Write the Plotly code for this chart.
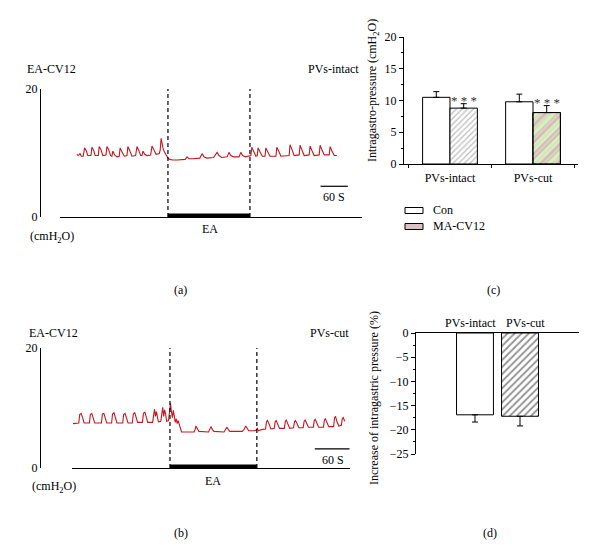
import plotly.graph_objects as go

W, H = 600, 557
def px(x): return x / W
def py(y): return 1 - y / H

FONT = "Liberation Serif"
RED = "#c8161e"

# ---------------- Panel (a): PVs-intact trace (time in s, EA starts at 0) ----------------
a_t = [-200, -197, -193, -190, -186, -183, -179, -176, -169, -167, -163, -160,
       -153, -151, -147, -143, -136, -134, -130, -126, -123, -121, -117, -112,
       -107, -105, -101, -96, -90, -88, -84, -79, -71, -68, -64, -60,
       -57, -55, -51, -46, -38, -35, -31, -26, -19, -17, -15, -13, -11, -8, -4, 0,
       4, 10, 20, 30, 38, 42, 46, 55, 70, 75, 79, 85, 100, 108, 112, 118,
       130, 134, 138, 144, 156, 160, 164, 170, 178,
       182, 184, 188, 193, 196, 198, 202, 207, 213, 215, 219, 224, 237, 239, 243, 248,
       266, 268, 272, 277, 288, 290, 294, 299, 310, 312, 316, 321, 332, 334, 338, 343,
       354, 356, 360, 365, 371]
a_v = [9.8, 9.6, 9.9, 9.5, 9.5, 10.8, 10.3, 9.6, 9.6, 10.9, 10.4, 9.6,
       9.6, 11.0, 10.5, 9.6, 9.7, 11.0, 10.5, 9.6, 9.5, 10.3, 9.7, 9.4,
       9.5, 10.8, 10.2, 9.5, 9.6, 11.0, 10.4, 9.5, 9.6, 11.0, 10.4, 9.6,
       9.6, 10.3, 9.8, 9.6, 9.7, 11.1, 10.5, 9.8, 9.9, 10.5, 12.3, 11.2, 10.8, 10.2, 9.6, 9.2,
       9.0, 8.9, 8.9, 8.9, 9.0, 9.4, 9.1, 9.1, 9.2, 9.9, 9.4, 9.2, 9.3, 10.1, 9.6, 9.3,
       9.4, 10.1, 9.6, 9.4, 9.4, 10.1, 9.6, 9.4, 9.5,
       9.6, 10.9, 10.2, 9.5, 9.6, 10.8, 10.2, 9.5, 9.5, 10.8, 10.2, 9.5, 9.5, 10.9, 10.3, 9.5,
       9.6, 11.3, 10.6, 9.6, 9.7, 11.2, 10.5, 9.6, 9.7, 11.1, 10.4, 9.6, 9.7, 11.2, 10.5, 9.7,
       9.7, 11.0, 10.3, 9.6, 9.6]

# ---------------- Panel (b): PVs-cut trace ----------------
b_t = [-201, -192, -189, -187, -184, -181, -178, -167, -165, -162, -159, -156,
       -142, -140, -137, -134, -131, -121, -119, -116, -113, -110, -98, -96, -93, -90, -87,
       -78, -76, -73, -70, -67, -57, -55, -52, -49, -46, -36, -34, -32, -30, -28, -26, -24,
       -19, -17, -15, -13, -11, -9, -7, -3, -1, 1, 3, 5, 7, 9, 11, 13, 15, 17, 19, 21, 24,
       40, 50, 52, 54, 57, 60, 80, 83, 85, 88, 91, 112, 115, 118, 121, 124,
       150, 154, 157, 160, 163, 175, 178, 181, 183, 190,
       198, 200, 202, 205, 209, 216, 218, 220, 223, 227, 237, 239, 241, 244, 248,
       256, 258, 260, 263, 267, 276, 278, 280, 283, 287, 297, 299, 301, 304, 308,
       318, 320, 322, 325, 329, 339, 341, 343, 346, 350, 355, 357, 359, 362]
b_v = [7.4, 7.5, 7.5, 8.9, 9.1, 8.4, 7.5, 7.5, 8.9, 9.1, 8.4, 7.5,
       7.5, 9.0, 9.1, 8.4, 7.5, 7.5, 9.0, 9.2, 8.5, 7.5, 7.5, 8.9, 9.1, 8.4, 7.5,
       7.5, 9.0, 9.2, 8.5, 7.6, 7.6, 9.1, 9.3, 8.6, 7.6, 7.6, 9.3, 9.8, 8.6, 9.4, 8.5, 7.7,
       7.8, 9.6, 10.1, 8.6, 9.7, 9.0, 7.8, 7.9, 9.8, 10.8, 9.4, 8.4, 9.6, 8.2, 7.6, 8.2, 7.4, 7.9, 7.2, 6.9, 6.0,
       6.0, 6.0, 6.4, 7.0, 6.5, 6.1, 6.0, 6.5, 6.9, 6.4, 6.1, 6.0, 6.4, 6.8, 6.4, 6.1,
       6.1, 6.5, 7.0, 6.5, 6.2, 6.2, 6.3, 6.6, 6.2, 6.4,
       6.5, 7.7, 7.9, 7.4, 6.5, 6.6, 7.7, 7.9, 7.4, 6.6, 6.6, 7.8, 8.0, 7.4, 6.6,
       6.7, 7.7, 7.9, 7.4, 6.7, 6.7, 7.8, 8.0, 7.5, 6.8, 6.8, 7.9, 8.1, 7.5, 6.8,
       6.8, 8.0, 8.2, 7.6, 6.9, 6.9, 8.4, 8.6, 7.7, 7.0, 7.1, 8.2, 8.4, 7.8]

ea_window = [0, 180]
scale_a = [335, 395]
scale_b = [300, 372]
trace_ticks = [0, 20]

# ---------------- Panel (c) ----------------
groups = ["PVs-intact", "PVs-cut"]
con_mean = [10.5, 9.8]
con_err = [0.9, 1.2]
ma_mean = [8.8, 8.1]
ma_err = [0.7, 1.1]
c_ticks = [0, 5, 10, 15, 20]
legend_labels = ["Con", "MA-CV12"]

# ---------------- Panel (d) ----------------
d_groups = ["PVs-intact", "PVs-cut"]
d_mean = [-16.9, -17.2]
d_err = [1.5, 2.0]
d_ticks = [0, -5, -10, -15, -20, -25]

fig = go.Figure()

fig.add_trace(go.Scatter(x=a_t, y=a_v, mode="lines", line=dict(color=RED, width=1.1),
                         xaxis="x", yaxis="y", showlegend=False))
fig.add_trace(go.Scatter(x=b_t, y=b_v, mode="lines", line=dict(color=RED, width=1.1),
                         xaxis="x2", yaxis="y2", showlegend=False))

BW = 0.33
eb = dict(type="data", symmetric=False, color="black", thickness=1, width=3)
fig.add_trace(go.Bar(x=groups, y=con_mean, offset=-BW, width=BW, name=legend_labels[0],
                     marker=dict(color="white", line=dict(color="black", width=1)),
                     error_y=dict(eb, array=con_err, arrayminus=[0] * len(con_err)),
                     xaxis="x3", yaxis="y3", showlegend=False))
fig.add_trace(go.Bar(x=groups, y=ma_mean, offset=0, width=BW, name=legend_labels[1],
                     marker=dict(color="white", line=dict(color="black", width=1),
                                 pattern=dict(shape=["/", "/"], fgcolor=["#7a7a7a", "#c99aaa"],
                                              bgcolor=["white", "#d4e6b6"], size=[4, 11],
                                              solidity=[0.3, 0.5])),
                     error_y=dict(eb, array=ma_err, arrayminus=[0] * len(ma_err)),
                     xaxis="x3", yaxis="y3", showlegend=False))
fig.add_trace(go.Bar(x=groups, y=[None, ma_mean[1]], offset=0, width=BW,
                     marker=dict(color="rgba(0,0,0,0)", line=dict(color="black", width=1),
                                 pattern=dict(shape="/", fgcolor="white", bgcolor="rgba(0,0,0,0)",
                                              size=4, solidity=0.25)),
                     xaxis="x3", yaxis="y3", showlegend=False, hoverinfo="skip"))

fig.add_trace(go.Bar(x=d_groups, y=d_mean, width=0.82,
                     marker=dict(color="white", line=dict(color="black", width=1),
                                 pattern=dict(shape=["", "/"], fgcolor="#222222", bgcolor="white",
                                              size=5, solidity=0.35)),
                     error_y=dict(eb, array=[0] * len(d_err), arrayminus=d_err),
                     xaxis="x4", yaxis="y4", showlegend=False))

tf = dict(family=FONT, size=12, color="black")
trace_x = dict(showline=True, linecolor="black", linewidth=1.2, showticklabels=False,
               ticks="", showgrid=False, zeroline=False, automargin=False)
trace_y = dict(anchor="free", position=px(40), range=[0, 20], showline=True, linecolor="black",
               linewidth=1.2, ticks="inside", ticklen=4, tickcolor="black", tickvals=trace_ticks,
               showgrid=False, zeroline=False, tickfont=tf, automargin=False)

fig.update_layout(
    width=W, height=H, margin=dict(l=0, r=0, t=0, b=0, autoexpand=False),
    paper_bgcolor="white", plot_bgcolor="rgba(0,0,0,0)",
    font=tf, barmode="overlay", showlegend=False,
    xaxis=dict(trace_x, domain=[px(60), px(362)], range=[-237, 426], anchor="y"),
    yaxis=dict(trace_y, domain=[py(217), py(89)]),
    xaxis2=dict(trace_x, domain=[px(72), px(350)], range=[-203, 373], anchor="y2"),
    yaxis2=dict(trace_y, domain=[py(468), py(348)]),
    xaxis3=dict(domain=[px(404), px(578)], type="category", range=[-0.554, 1.542], anchor="y3",
                showline=True, linecolor="black", linewidth=1, ticks="outside", tickson="boundaries",
                ticklen=3, tickcolor="black", showgrid=False, zeroline=False, tickfont=tf,
                tickangle=0, ticklabelstandoff=3, automargin=False),
    yaxis3=dict(domain=[py(164), py(37)], range=[0, 20], tickvals=c_ticks, anchor="x3",
                showline=True, linecolor="black", linewidth=1, ticks="outside", ticklen=4,
                tickcolor="black", minor=dict(ticks="outside", ticklen=2, dtick=2.5, tickcolor="black"),
                showgrid=False, zeroline=False, tickfont=tf, automargin=False),
    xaxis4=dict(domain=[px(416), px(579)], type="category", range=[-1.31, 2.31], anchor="y4",
                side="top", showline=True, linecolor="black", linewidth=1, ticks="",
                showticklabels=False, showgrid=False, zeroline=False, automargin=False),
    yaxis4=dict(domain=[py(454), py(333)], range=[-25, 0], tickvals=d_ticks, anchor="x4",
                showline=True, linecolor="black", linewidth=1, ticks="outside", ticklen=4,
                tickcolor="black", minor=dict(ticks="outside", ticklen=2, dtick=2.5, tickcolor="black"),
                showgrid=False, zeroline=False, tickfont=tf, automargin=False),
)

shapes = []
for xr, yr, ybar_top, scale, scale_y in [("x", "y", 0.55, scale_a, 4.8), ("x2", "y2", 0.6, scale_b, 3.2)]:
    for t in ea_window:
        shapes.append(dict(type="line", xref=xr, yref=yr, x0=t, x1=t, y0=0, y1=20,
                           line=dict(color="black", width=1.2, dash="4px,3px")))
    shapes.append(dict(type="rect", xref=xr, yref=yr, x0=ea_window[0], x1=ea_window[1], y0=0,
                       y1=ybar_top, fillcolor="black", line=dict(width=0)))
    shapes.append(dict(type="line", xref=xr, yref=yr, x0=scale[0], x1=scale[1], y0=scale_y,
                       y1=scale_y, line=dict(color="black", width=1.2)))

# legend swatches for panel (c)
swatch_fill = ["white", "#dcc2c6"]
for i, fill in enumerate(swatch_fill):
    yc = 210.5 + i * 16
    shapes.append(dict(type="rect", xref="paper", yref="paper", x0=px(405), x1=px(423),
                       y0=py(yc + 3), y1=py(yc - 3), fillcolor=fill,
                       line=dict(color="black", width=1)))
fig.update_layout(shapes=shapes)

ann = []
def text(x, y, s, xanchor="center", size=12, **kw):
    ann.append(dict(x=x, y=y, xref="paper", yref="paper", text=s, showarrow=False,
                    xanchor=xanchor, yanchor="middle", font=dict(family=FONT, size=size, color="black"), **kw))

text(px(25), py(69), "EA-CV12", "left")
text(px(361), py(69), "PVs-intact", "right")
text(px(27), py(333), "EA-CV12", "left")
text(px(351), py(333), "PVs-cut", "right")
text(px(52), py(237), "(cmH<sub>2</sub>O)")
text(px(54), py(487), "(cmH<sub>2</sub>O)")
text(px(210), py(229), "EA")
text(px(213), py(481), "EA")
text(px(334), py(197), "60 S")
text(px(333), py(460), "60 S")
text(px(180), py(290), "(a)")
text(px(493), py(290), "(c)")
text(px(181), py(533), "(b)")
text(px(490), py(533), "(d)")
text(px(373), py(91), "Intragastro-pressure (cmH<sub>2</sub>O)", textangle=-90)
text(px(374), py(398), "Increase of intragastric pressure (%)", textangle=-90)
for i, lab in enumerate(legend_labels):
    text(px(431), py(210.5 + i * 16), lab, "left")
for i, g in enumerate(groups):
    ann.append(dict(x=i + BW / 2, y=ma_mean[i] + ma_err[i], xref="x3", yref="y3", text="* * *",
                    showarrow=False, yanchor="bottom", yshift=-6,
                    font=dict(family=FONT, size=13, color="#333333")))
# panel (d) category labels above the zero line
for i, (g, shift) in enumerate(zip(d_groups, [-4, 5])):
    ann.append(dict(x=i, y=0, xref="x4", yref="y4", text=g, showarrow=False,
                    yanchor="bottom", yshift=1, xshift=shift, font=tf))
fig.update_layout(annotations=ann)

fig.write_html("out.html", post_script="document.body.style.margin='0';",
               config={"displayModeBar": False})
